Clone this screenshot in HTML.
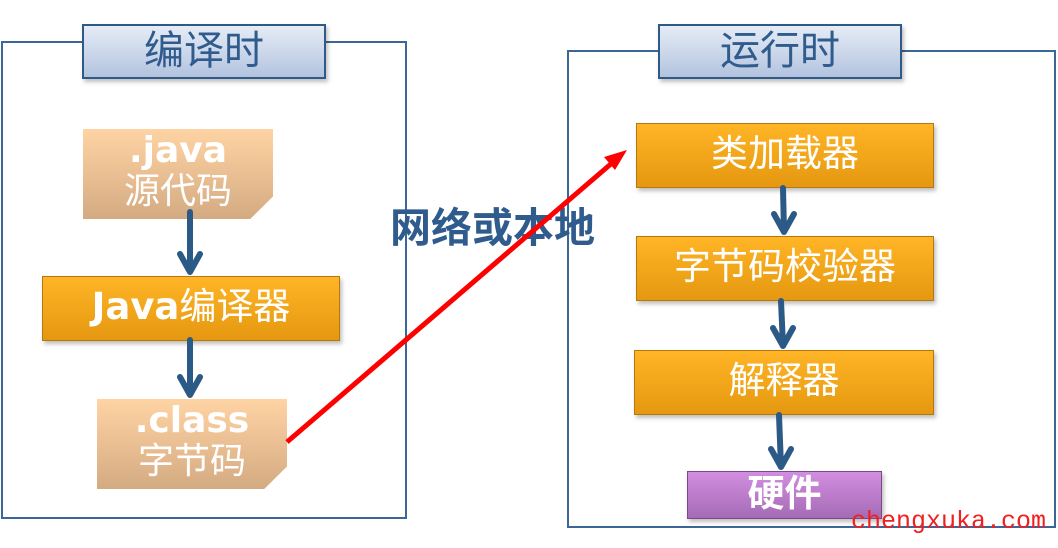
<!DOCTYPE html>
<html><head><meta charset="utf-8"><style>
body{margin:0;width:1058px;height:548px;background:#fff;position:relative;overflow:hidden;font-family:"DejaVu Sans","Noto Sans CJK SC",sans-serif}
.a{position:absolute;box-sizing:border-box}
.frame{border:2px solid #3a6795}
.title{background:linear-gradient(#e6ecf6,#b3c3df);border:2px solid #2f5a88;color:#2f5c8d;font-size:40px;text-align:center;line-height:50px;box-shadow:2px 3px 4px rgba(0,0,0,.25)}
.org{background:linear-gradient(#ffb526,#e59810);border:1px solid #b07a10;color:#fff;font-size:37px;text-align:center;box-shadow:2px 3px 4px rgba(0,0,0,.25);white-space:nowrap}
.note{background:linear-gradient(#ffd4a4,#d4aa82);color:#fff;text-align:center;box-shadow:2px 3px 4px rgba(0,0,0,.2);clip-path:polygon(0 0,100% 0,100% 75%,88% 100%,0 100%)}
</style></head><body>
<div class="a frame" style="left:1px;top:41px;width:406px;height:478px"></div>
<div class="a frame" style="left:567px;top:50px;width:489px;height:478px"></div>
<div class="a title" style="left:82px;top:24px;width:244px;height:55px">编译时</div>
<div class="a title" style="left:658px;top:24px;width:244px;height:55px">运行时</div>
<div class="a note" style="left:83px;top:129px;width:190px;height:90px"><div style="font-size:36px;font-weight:bold;line-height:40px;margin-top:2px">.java</div><div style="font-size:36px;line-height:42px">源代码</div></div>
<div class="a note" style="left:97px;top:399px;width:190px;height:90px"><div style="font-size:36px;font-weight:bold;line-height:40px;margin-top:2px">.class</div><div style="font-size:36px;line-height:42px">字节码</div></div>
<div class="a org" style="left:42px;top:276px;width:298px;height:65px;line-height:60px"><b>Java</b>编译器</div>
<div class="a org" style="left:636px;top:123px;width:298px;height:65px;line-height:60px">类加载器</div>
<div class="a org" style="left:636px;top:236px;width:298px;height:65px;line-height:60px">字节码校验器</div>
<div class="a org" style="left:634px;top:350px;width:300px;height:65px;line-height:60px">解释器</div>
<div class="a org" style="left:687px;top:471px;width:195px;height:48px;line-height:44px;background:linear-gradient(#d28ee0,#a56bb5);border-color:#7a4a88;font-weight:bold">硬件</div>
<div class="a" style="left:390px;top:203px;font-size:41px;font-weight:bold;color:#2f5c8d;line-height:50px">网络或本地</div>
<div class="a" style="left:851px;top:507px;font-family:'Liberation Mono',monospace;font-size:25px;color:#f02020;line-height:30px">chengxuka.com</div>
<svg class="a" style="left:0;top:0" width="1058" height="548">
<g stroke="#2c5a87" stroke-width="6" fill="none" stroke-linecap="round" stroke-linejoin="round">
<path d="M190 212V272M180 254L190 272L200 254"/>
<path d="M190 340V395M180 377L190 395L200 377"/>
<path d="M783 188L784 232M774 214L784 232L794 214"/>
<path d="M781 301L783 346M773 328L783 346L793 328"/>
<path d="M779 415L781 467M771 449L781 467L791 449"/>
</g>
<line x1="287" y1="442" x2="612" y2="163" stroke="#ff0000" stroke-width="5"/>
<polygon points="627,150 604,157 615,170" fill="#ff0000"/>
</svg>
</body></html>
